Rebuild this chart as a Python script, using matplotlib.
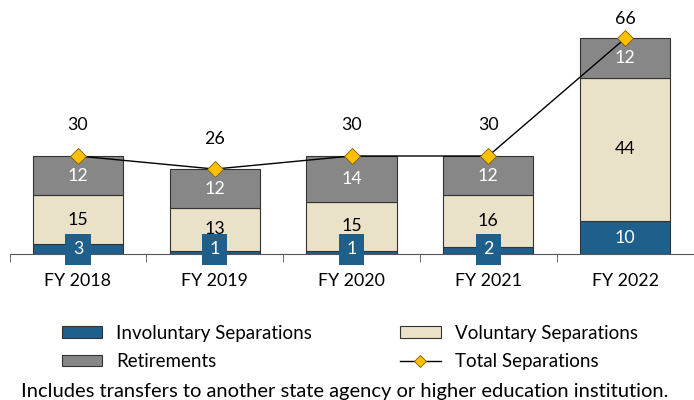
import matplotlib
matplotlib.use("Agg")
import matplotlib.pyplot as plt
from matplotlib.patches import Patch
from matplotlib.lines import Line2D
import numpy as np

plt.rcParams['font.family'] = ['Lato', 'DejaVu Sans']

categories = ["FY 2018", "FY 2019", "FY 2020", "FY 2021", "FY 2022"]
involuntary = [3, 1, 1, 2, 10]
voluntary = [15, 13, 15, 16, 44]
retirements = [12, 12, 14, 12, 12]
total = [30, 26, 30, 30, 66]

c_inv = "#1F5F8B"
c_vol = "#EAE2C8"
c_ret = "#878787"
c_mark = "#FFC000"

fig = plt.figure(figsize=(6.94, 4.0), dpi=100)
ax = fig.add_axes([9.5/694, 1-254/400, 684/694, 245/400])

x = np.arange(len(categories))
w = 0.66
inv = np.array(involuntary); vol = np.array(voluntary); ret = np.array(retirements)
ax.bar(x, inv, w, color=c_inv, edgecolor="#333333", linewidth=0.8, zorder=2)
ax.bar(x, vol, w, bottom=inv, color=c_vol, edgecolor="#333333", linewidth=0.8, zorder=2)
ax.bar(x, ret, w, bottom=inv+vol, color=c_ret, edgecolor="#333333", linewidth=0.8, zorder=2)
ax.plot(x, total, color="black", linewidth=1.0, marker="D", markersize=8,
        markerfacecolor=c_mark, markeredgecolor="#7a5c00", markeredgewidth=0.6, zorder=4)

fs = 12.8
for i in range(len(x)):
    if inv[i] >= 5:
        ax.text(x[i], inv[i]/2, str(inv[i]), ha="center", va="center", color="white", fontsize=fs, zorder=5)
    else:
        ax.text(x[i], 1.4, str(inv[i]), ha="center", va="center", color="white", fontsize=fs, zorder=5,
                bbox=dict(boxstyle="square,pad=0.42", facecolor=c_inv, edgecolor="none"))
    ax.text(x[i], inv[i] + vol[i]/2, str(vol[i]), ha="center", va="center", color="black", fontsize=fs, zorder=5)
    ax.text(x[i], inv[i] + vol[i] + ret[i]/2, str(ret[i]), ha="center", va="center", color="white", fontsize=fs, zorder=5)
    off = 22 if total[i] < 60 else 14
    ax.annotate(str(total[i]), (x[i], total[i]), xytext=(0, off), textcoords="offset points",
                ha="center", va="center", fontsize=fs, zorder=5)

ax.set_xlim(-0.5, len(x) - 0.5)
ax.set_ylim(0, 75)
for s in ["top", "right", "left"]:
    ax.spines[s].set_visible(False)
ax.spines["bottom"].set_color("#555555")
ax.set_yticks([])
ax.set_xticks(x)
ax.set_xticklabels(categories, fontsize=fs)
ax.tick_params(axis="x", length=0, pad=14)
ax.set_xticks(np.arange(len(x) + 1) - 0.5, minor=True)
ax.tick_params(axis="x", which="minor", length=6, direction="out", color="#555555")

h_inv = Patch(facecolor=c_inv, edgecolor="#333333", linewidth=0.8)
h_vol = Patch(facecolor=c_vol, edgecolor="#333333", linewidth=0.8)
h_ret = Patch(facecolor=c_ret, edgecolor="#333333", linewidth=0.8)
h_tot = Line2D([0], [0], color="black", linewidth=1.0, marker="D", markersize=6,
               markerfacecolor=c_mark, markeredgecolor="#7a5c00", markeredgewidth=0.6)
handles = [h_inv, h_ret, h_vol, h_tot]
labels = ["Involuntary Separations", "Retirements", "Voluntary Separations", "Total Separations"]
fig.legend(handles, labels, ncol=2, loc="center", bbox_to_anchor=(0.504, 1-347.5/400),
           frameon=False, fontsize=13.5, handlelength=2.15, handleheight=0.55,
           columnspacing=4.7, labelspacing=0.62, handletextpad=0.75)

fig.text(0.497, 1-391/400, "Includes transfers to another state agency or higher education institution.",
         ha="center", va="center", fontsize=14.5)

fig.savefig("out.png", dpi=100)
